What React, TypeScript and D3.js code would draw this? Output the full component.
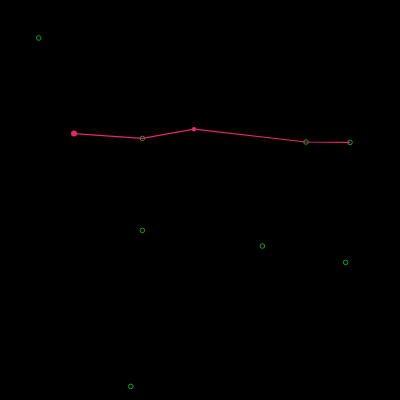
import React, { useEffect, useRef } from 'react';
import * as d3 from 'd3';

// line series (x, y in chart units 0-100)
const lineX = [18.5, 35.6, 48.5, 76.5, 87.5];
const lineY = [66.6, 65.4, 67.7, 64.5, 64.4];
// filled pink markers on the line
const dotX = [18.5, 48.5];
const dotY = [66.6, 67.7];
const dotR = [3, 2.2];
// hollow green markers
const ringX = [9.7, 35.6, 35.6, 65.6, 86.4, 32.7, 76.5, 87.5];
const ringY = [90.5, 65.4, 42.4, 38.5, 34.4, 3.4, 64.5, 64.4];

const W = 400;
const H = 400;

export default function App() {
  const svgRef = useRef<SVGSVGElement>(null);

  useEffect(() => {
    if (!svgRef.current) return;
    const svg = d3.select(svgRef.current);
    svg.selectAll('*').remove();

    const x = d3.scaleLinear().domain([0, 100]).range([0, W]);
    const y = d3.scaleLinear().domain([0, 100]).range([H, 0]);

    svg.append('rect').attr('width', W).attr('height', H).attr('fill', '#000');

    // rings first so the line passes over them
    svg.selectAll('.ring')
      .data(ringX.map((v, i) => ({ x: v, y: ringY[i] })))
      .enter()
      .append('circle')
      .attr('class', 'ring')
      .attr('cx', d => x(d.x))
      .attr('cy', d => y(d.y))
      .attr('r', 2.3)
      .attr('fill', 'none')
      .attr('stroke', '#1fa02a')
      .attr('stroke-width', 1);

    const pts = lineX.map((v, i) => [v, lineY[i]] as [number, number]);
    const line = d3.line<[number, number]>()
      .x(d => x(d[0]))
      .y(d => y(d[1]));

    svg.append('path')
      .datum(pts)
      .attr('d', line)
      .attr('fill', 'none')
      .attr('stroke', '#e8266e')
      .attr('stroke-width', 1.2);

    svg.selectAll('.dot')
      .data(dotX.map((v, i) => ({ x: v, y: dotY[i], r: dotR[i] })))
      .enter()
      .append('circle')
      .attr('class', 'dot')
      .attr('cx', d => x(d.x))
      .attr('cy', d => y(d.y))
      .attr('r', d => d.r)
      .attr('fill', '#e8266e');
  }, []);

  return (
    <svg
      ref={svgRef}
      width={W}
      height={H}
      style={{ position: 'absolute', left: 0, top: 0, display: 'block' }}
    />
  );
}
